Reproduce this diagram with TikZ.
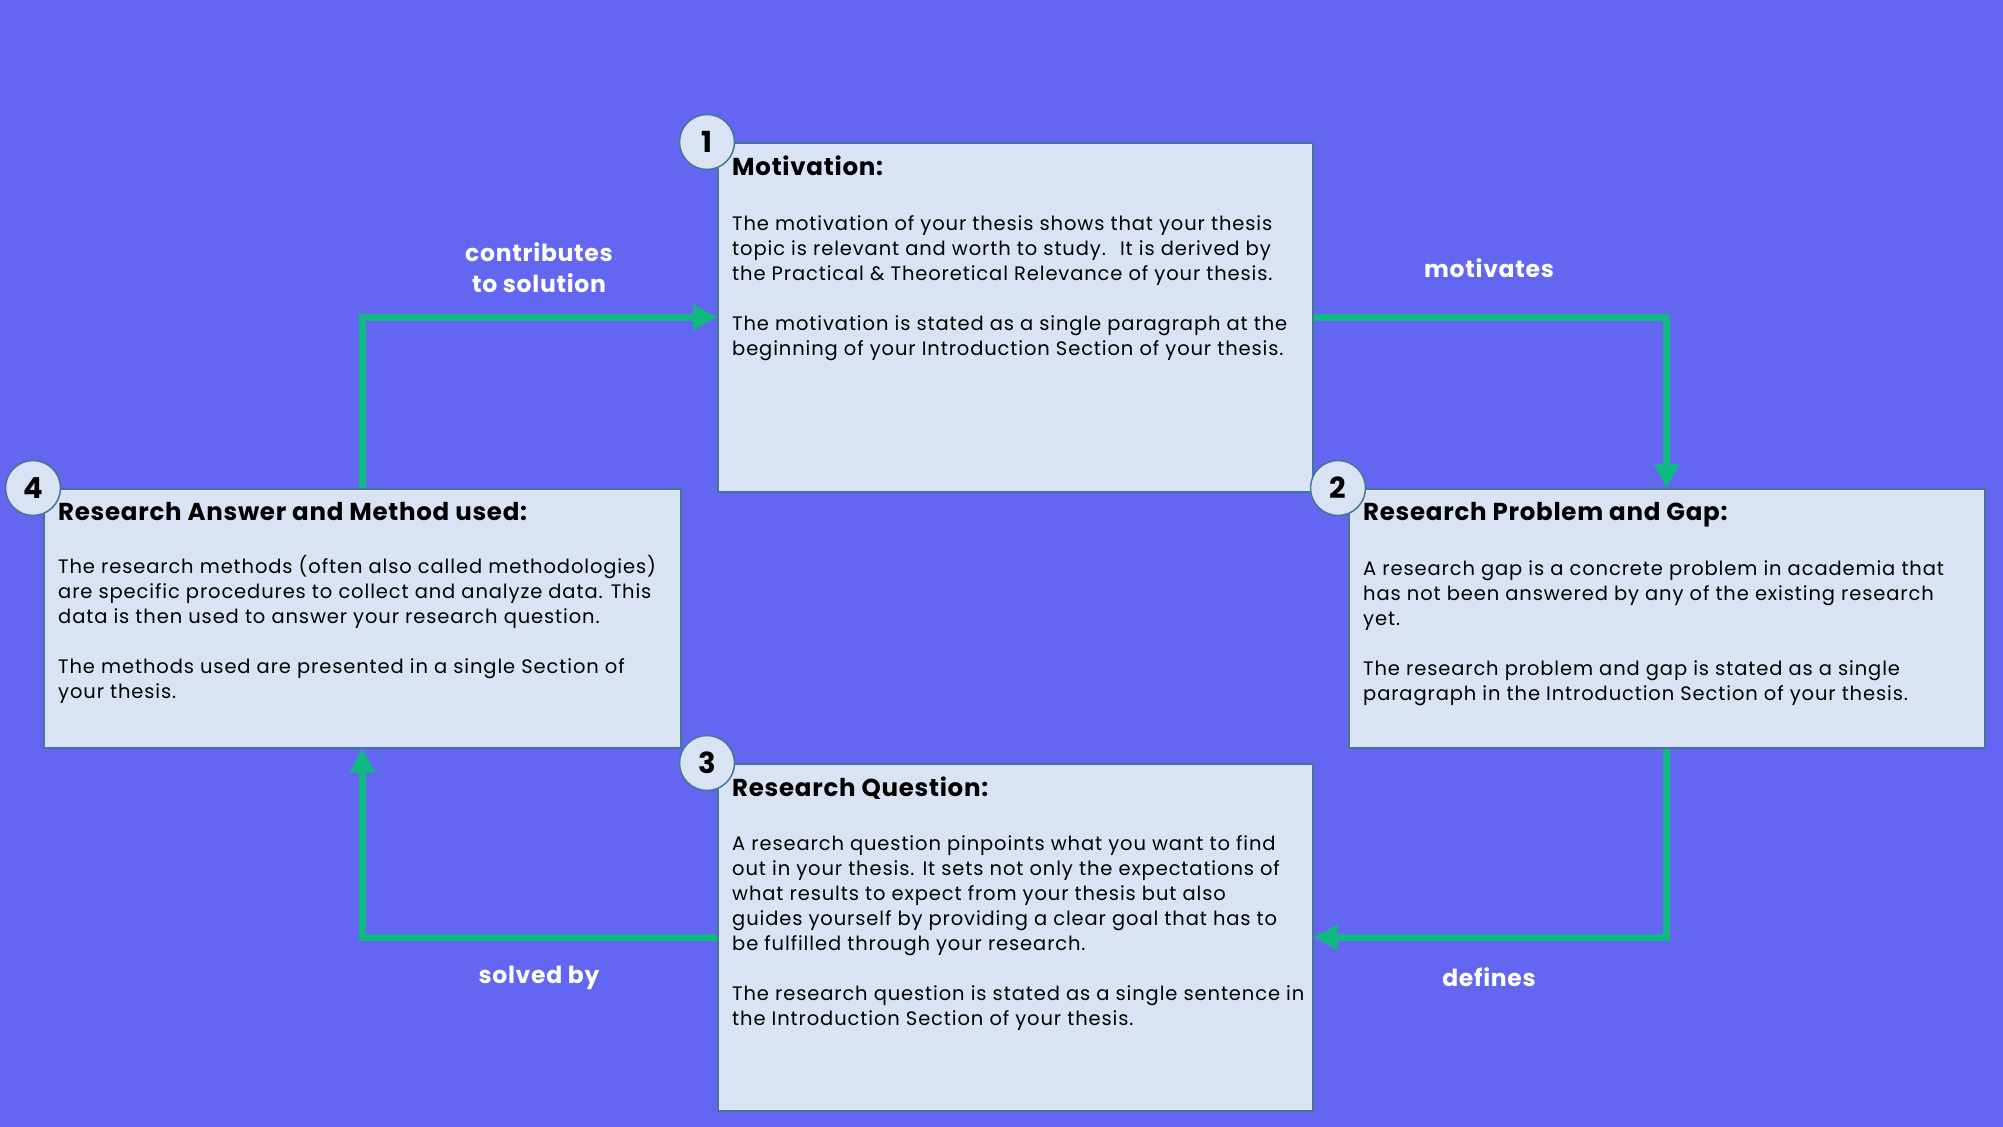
\documentclass[tikz,border=0pt]{standalone}
\usepackage{fontspec}
\setmainfont{Poppins}
\newfontfamily\bodyfont[LetterSpace=4.5]{Poppins}
\newfontfamily\headfont[LetterSpace=3]{Poppins}
\usetikzlibrary{positioning,arrows.meta}
\definecolor{bgblue}{RGB}{99,102,241}
\definecolor{cardfill}{RGB}{218,227,243}
\definecolor{cardline}{RGB}{70,118,150}
\definecolor{flowgreen}{RGB}{16,185,129}
\tikzset{
	card/.style={draw=cardline, line width=1.5pt, fill=cardfill, inner sep=0pt, anchor=north west},
	badge/.style={circle, draw=cardline, line width=1.5pt, fill=cardfill, minimum size=55pt, inner sep=0pt,
		font=\fontsize{29}{29}\selectfont\bfseries},
	cardtitle/.style={anchor=north west, inner sep=0pt, font=\headfont\fontsize{24.5}{25}\selectfont\bfseries},
	cardbody/.style={anchor=north west, align=left, inner sep=0pt, font=\bodyfont\fontsize{19.5}{25}\selectfont},
	flow/.style={draw=flowgreen, line width=7pt, -{Triangle[length=24pt,width=24pt]}},
	flowlabel/.style={text=white, align=center, inner sep=0pt, font=\headfont\fontsize{23.5}{31}\selectfont\bfseries}
}
\newcommand{\cardnumber}[2]{\node[badge] (#1num) at ([xshift=-10pt]#1.north west) {#2};}

\begin{document}
\begin{tikzpicture}[x=1pt, y=-1pt]

	\fill[bgblue] (0,0) rectangle (2003,1127);
	\useasboundingbox (0,0) rectangle (2003,1127);

	% the four cards
	\node[card, minimum width=595pt, minimum height=349pt] (motiv) at (717,142) {};
	\node[card, minimum width=636pt, minimum height=259pt] (problem) at (1348,488) {};
	\node[card, minimum width=595pt, minimum height=347pt] (question) at (717,763) {};
	\node[card, minimum width=637pt, minimum height=259pt] (answer) at (43,488) {};

	% arrows between the cards
	\draw[flow] (answer.north) |- (motiv.west);
	\draw[flow] (motiv.east) -| (problem.north);
	\draw[flow] (problem.south) |- (question.east);
	\draw[flow] (question.west) -| (answer.south);

	\node[flowlabel] (contriblabel) at (539,268) {contributes\\to solution};
	\node[flowlabel] (motivlabel) at (1489,268) {motivates};
	\node[flowlabel] (defineslabel) at (1489,977) {defines};
	\node[flowlabel] (solvedlabel) at (539,978) {solved by};

	% texts of the cards
	\node[cardtitle] (motivtitle) at ([xshift=15pt,yshift=-14pt]motiv.north west) {Motivation:};
	\node[cardbody] (motivbody) at ([xshift=15pt,yshift=-73pt]motiv.north west)
		{The motivation of your thesis shows that your thesis\\
		topic is relevant and worth to study.~ It is derived by\\
		the Practical \& Theoretical Relevance of your thesis.\\[25pt]
		The motivation is stated as a single paragraph at the\\
		beginning of your Introduction Section of your thesis.};

	\node[cardtitle] (problemtitle) at ([xshift=15pt,yshift=-14pt]problem.north west) {Research Problem and Gap:};
	\node[cardbody] (problembody) at ([xshift=15pt,yshift=-72pt]problem.north west)
		{A research gap is a concrete problem in academia that\\
		has not been answered by any of the existing research\\
		yet.\\[25pt]
		The research problem and gap is stated as a single\\
		paragraph in the Introduction Section of your thesis.};

	\node[cardtitle] (questiontitle) at ([xshift=15pt,yshift=-14pt]question.north west) {Research Question:};
	\node[cardbody] (questionbody) at ([xshift=15pt,yshift=-72pt]question.north west)
		{A research question pinpoints what you want to find\\
		out in your thesis. It sets not only the expectations of\\
		what results to expect from your thesis but also\\
		guides yourself by providing a clear goal that has to\\
		be fulfilled through your research.\\[25pt]
		The research question is stated as a single sentence in\\
		the Introduction Section of your thesis.};

	\node[cardtitle] (answertitle) at ([xshift=15pt,yshift=-14pt]answer.north west) {Research Answer and Method used:};
	\node[cardbody] (answerbody) at ([xshift=15pt,yshift=-67pt]answer.north west)
		{The research methods (often also called methodologies)\\
		are specific procedures to collect and analyze data. This\\
		data is then used to answer your research question.\\[25pt]
		The methods used are presented in a single Section of\\
		your thesis.};

	% numbers
	\cardnumber{motiv}{1}
	\cardnumber{problem}{2}
	\cardnumber{question}{3}
	\cardnumber{answer}{4}

\end{tikzpicture}
\end{document}
